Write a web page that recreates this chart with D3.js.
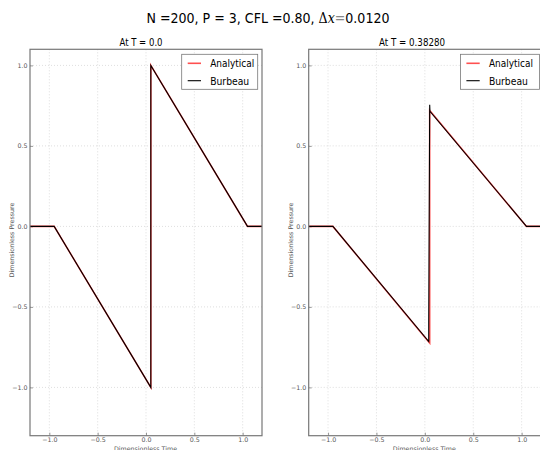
<!DOCTYPE html>
<html><head><meta charset="utf-8">
<script src="https://cdn.jsdelivr.net/npm/d3@7"></script>
<style>body{margin:0;background:#fff}svg{display:block}</style>
</head><body>
<script>
const xTicks = [-1.0, -0.5, 0.0, 0.5, 1.0];
const yTicks = [-1.0, -0.5, 0.0, 0.5, 1.0];
const panelTitles = ["At T = 0.0", "At T = 0.38280"];
const seriesNames = ["Analytical", "Burbeau"];
// panel 1 (T = 0)
const analytical0 = [[-1.2,0],[-0.95,0],[0.05,-1.0],[0.05,1.0],[1.05,0],[1.2,0]];
const burbeau0    = [[-1.2,0],[-0.95,0],[0.05,-1.0],[0.05,1.0],[1.05,0],[1.2,0]];
// panel 2 (T = 0.38280)
const analytical1 = [[-1.2,0],[-0.95,0],[0.05,-0.725],[0.05,0.72],[1.05,0],[1.2,0]];
const burbeau1    = [[-1.2,0],[-0.95,0],[0.040,-0.715],[0.040,-0.60],[0.050,0.755],[0.053,0.715],[1.05,0],[1.2,0]];

const W = 540, H = 450;
const svg = d3.select("body").append("svg").attr("width", W).attr("height", H);
const font = "DejaVu Sans, sans-serif";

const sup = svg.append("g").attr("transform", "translate(268,23) scale(0.87,1)");
sup.append("text").attr("x", 0).attr("y", 0).attr("text-anchor", "middle")
  .attr("font-family", font).attr("font-size", 14.5).attr("fill", "#000")
  .html('N =200, P = 3,  CFL =0.80, <tspan font-family="DejaVu Serif, serif">Δ<tspan font-style="italic">x</tspan><tspan fill="#888">=</tspan></tspan>0.0120');

const panels = [
  {x0: 30, x1: 262, title: panelTitles[0], tx: 141, an: analytical0, bu: burbeau0},
  {x0: 308.7, x1: 541, title: panelTitles[1], tx: 412, an: analytical1, bu: burbeau1}
];
const y0 = 49.3, y1 = 435.7;

panels.forEach((p, i) => {
  const x = d3.scaleLinear().domain([-1.2, 1.2]).range([p.x0, p.x1]);
  const y = d3.scaleLinear().domain([-1.3, 1.1]).range([y1, y0]);
  const g = svg.append("g");
  const cid = "clip" + i;
  svg.append("clipPath").attr("id", cid).append("rect")
    .attr("x", p.x0).attr("y", y0).attr("width", p.x1 - p.x0).attr("height", y1 - y0);

  // grid
  g.selectAll(".gx").data(xTicks).enter().append("line")
    .attr("x1", d => x(d)).attr("x2", d => x(d)).attr("y1", y0).attr("y2", y1)
    .attr("stroke", "#c8c8c8").attr("stroke-width", 0.6).attr("stroke-dasharray", "1,2");
  g.selectAll(".gy").data(yTicks).enter().append("line")
    .attr("y1", d => y(d)).attr("y2", d => y(d)).attr("x1", p.x0).attr("x2", p.x1)
    .attr("stroke", "#c8c8c8").attr("stroke-width", 0.6).attr("stroke-dasharray", "1,2");

  // axes via d3
  const fmt = d => d3.format(".1f")(d).replace("-", "\u2212");
  const ax = g.append("g").attr("transform", `translate(0,${y1})`)
    .call(d3.axisBottom(x).tickValues(xTicks).tickFormat(fmt).tickSizeInner(-3).tickSizeOuter(0).tickPadding(1.5));
  const ay = g.append("g").attr("transform", `translate(${p.x0},0)`)
    .call(d3.axisLeft(y).tickValues(yTicks).tickFormat(fmt).tickSizeInner(-3).tickSizeOuter(0).tickPadding(2.5));
  [ax, ay].forEach(a => {
    a.select(".domain").remove();
    a.selectAll("line").attr("stroke", "#555").attr("stroke-width", 0.6);
    a.selectAll("text").attr("font-family", font).attr("font-size", 6.3).attr("fill", "#555");
  });

  // lines
  const line = d3.line().x(d => x(d[0])).y(d => y(d[1]));
  g.append("path").datum(p.an).attr("d", line).attr("fill", "none")
    .attr("stroke", "#ff5050").attr("stroke-width", 1.6).attr("clip-path", `url(#${cid})`);
  g.append("path").datum(p.bu).attr("d", line).attr("fill", "none")
    .attr("stroke", "#000").attr("stroke-width", 1.1).attr("clip-path", `url(#${cid})`);

  // frame
  g.append("rect").attr("x", p.x0).attr("y", y0).attr("width", p.x1 - p.x0).attr("height", y1 - y0)
    .attr("fill", "none").attr("stroke", "#777").attr("stroke-width", 1.2);

  // titles and labels
  svg.append("text").attr("x", p.tx).attr("y", 46).attr("text-anchor", "middle")
    .attr("font-family", font).attr("font-size", 10).attr("fill", "#000")
    .attr("textLength", i === 0 ? 43 : 66).attr("lengthAdjust", "spacingAndGlyphs").text(p.title);
  svg.append("text").attr("transform", `translate(${p.x0 - 16},240) rotate(-90)`)
    .attr("text-anchor", "middle").attr("font-family", font).attr("font-size", 6.3).attr("fill", "#555")
    .text("Dimensionless Pressure");
  svg.append("text").attr("x", (p.x0 + p.x1) / 2 - 0.5).attr("y", 450.5).attr("text-anchor", "middle")
    .attr("font-family", font).attr("font-size", 6.3).attr("fill", "#555")
    .text("Dimensionless Time");

  // legend
  const lx = p.x0 + 151.7, ly = 54.3;
  const lg = svg.append("g");
  lg.append("rect").attr("x", lx).attr("y", ly).attr("width", i === 0 ? 76 : 79).attr("height", 35)
    .attr("fill", "#fff").attr("stroke", "#777").attr("stroke-width", 0.8);
  const cols = ["#ff5050", "#000"];
  seriesNames.forEach((s, k) => {
    const yy = ly + 9 + k * 17.4;
    lg.append("line").attr("x1", lx + 6).attr("x2", lx + 19.3).attr("y1", yy).attr("y2", yy)
      .attr("stroke", cols[k]).attr("stroke-width", k === 0 ? 1.6 : 1.1);
    lg.append("text").attr("x", lx + 28.5).attr("y", yy + 4).attr("font-family", font)
      .attr("font-size", 11).attr("fill", "#000")
      .attr("textLength", k === 0 ? 44 : 39).attr("lengthAdjust", "spacingAndGlyphs").text(s);
  });
});
</script>
</body></html>
